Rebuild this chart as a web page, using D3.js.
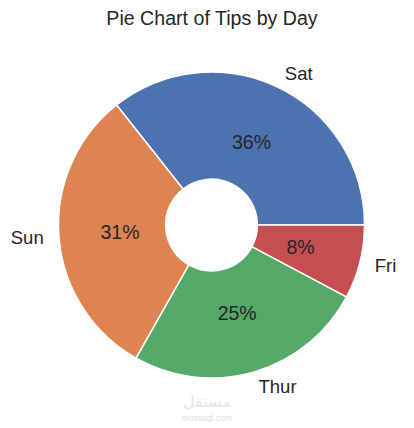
<!DOCTYPE html>
<html><head><meta charset="utf-8">
<script src="https://cdn.jsdelivr.net/npm/d3@7"></script>
<style>body{margin:0;background:#fff}svg{display:block}</style>
</head><body>
<script>
const days = ["Sat", "Sun", "Thur", "Fri"];
const counts = [87, 76, 62, 19];
const colors = ["#4C72B0", "#DD8452", "#55A868", "#C44E52"];

const W = 414, H = 428;
const cx = 211.5, cy = 225, R = 153, r0 = R * 0.3;
const FONT = "Liberation Sans, Arial, sans-serif";
const svg = d3.select("body").append("svg").attr("width", W).attr("height", H);
svg.append("rect").attr("width", W).attr("height", H).attr("fill", "#fff");

svg.append("text").attr("x", 212).attr("y", 25).attr("text-anchor", "middle")
  .attr("font-family", FONT).attr("font-size", 19.6)
  .attr("fill", "#262626").text("Pie Chart of Tips by Day");

// matplotlib-style: start at 3 o'clock, counterclockwise
const total = d3.sum(counts);
const angle = d3.scaleLinear().domain([0, total]).range([0, 2 * Math.PI]);
let cum = 0;
const slices = counts.map((v, i) => {
  const a0 = angle(cum); cum += v; const a1 = angle(cum);
  return {i, v, a0, a1};
});
const arc = d3.arc().innerRadius(r0).outerRadius(R);
const g = svg.append("g").attr("transform", `translate(${cx},${cy})`);
g.selectAll("path").data(slices).join("path")
  .attr("d", d => arc({startAngle: Math.PI/2 - d.a1, endAngle: Math.PI/2 - d.a0}))
  .attr("fill", d => colors[d.i]).attr("stroke", "#fff").attr("stroke-width", 1.5)
  .attr("stroke-linejoin", "round");

slices.forEach(d => {
  const m = (d.a0 + d.a1) / 2;
  const lx = 1.1 * R * Math.cos(m), ly = -1.1 * R * Math.sin(m);
  g.append("text").attr("x", lx).attr("y", ly).attr("dy", "0.35em")
    .attr("text-anchor", lx > 0 ? "start" : "end")
    .attr("font-family", FONT).attr("font-size", 18.5)
    .attr("fill", "#262626").text(days[d.i]);
  const px = 0.6 * R * Math.cos(m), py = -0.6 * R * Math.sin(m);
  g.append("text").attr("x", px).attr("y", py).attr("dy", "0.35em")
    .attr("text-anchor", "middle")
    .attr("font-family", FONT).attr("font-size", 19.5)
    .attr("fill", "#262626").text(Math.round(d.v / total * 100) + "%");
});

// watermark
svg.append("text").attr("x", 207).attr("y", 407).attr("text-anchor", "middle")
  .attr("font-family", "Noto Sans, DejaVu Sans, sans-serif").attr("font-size", 16)
  .attr("fill", "#e6e6e6").text("مستقل");
svg.append("text").attr("x", 207).attr("y", 421).attr("text-anchor", "middle")
  .attr("font-family", FONT).attr("font-size", 9)
  .attr("fill", "#e0e0e0").text("mostaql.com");
</script>
</body></html>
